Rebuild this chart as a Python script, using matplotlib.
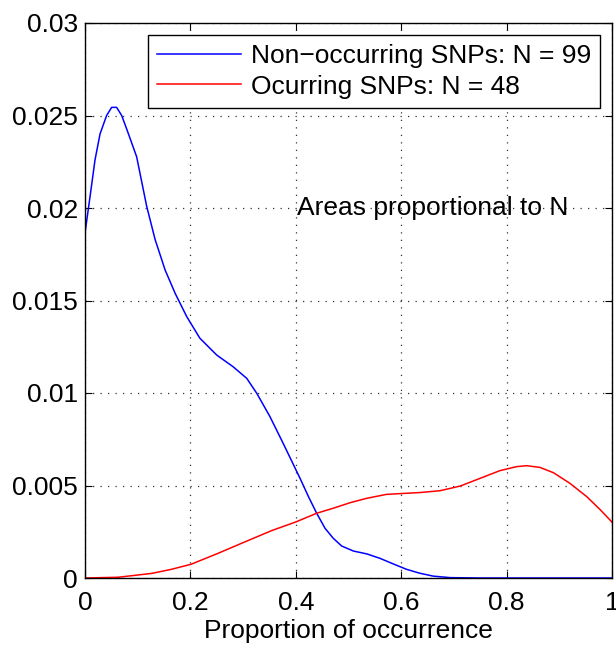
import matplotlib
matplotlib.use("Agg")
import matplotlib.pyplot as plt
import numpy as np

plt.rcParams['font.family'] = ['Liberation Sans', 'DejaVu Sans']

# Non-occurring SNPs density (blue)
blue_x = [0.0, 0.0095, 0.019, 0.0285, 0.041, 0.0506, 0.060, 0.0696, 0.080, 0.098,
          0.117, 0.133, 0.152, 0.171, 0.193, 0.218, 0.250, 0.281, 0.307,
          0.326, 0.351, 0.376, 0.408, 0.424, 0.4396, 0.4554, 0.471, 0.487, 0.509,
          0.535, 0.560, 0.585, 0.610, 0.635, 0.661, 0.693, 0.75, 1.0]
blue_y = [0.01865, 0.0206, 0.0226, 0.0240, 0.0250, 0.02544, 0.02544, 0.0250, 0.0242, 0.02277,
          0.0201, 0.0183, 0.01665, 0.01539, 0.01413, 0.01296, 0.01205, 0.01142, 0.01079,
          0.00998, 0.00872, 0.00728, 0.00539, 0.0044, 0.0035, 0.00269, 0.00215, 0.00173, 0.00146,
          0.0013, 0.00106, 0.00076, 0.00047, 0.00026, 0.0001, 0.00002, 0.0, 0.0]

# Occurring SNPs density (red)
red_x = [0.0, 0.063, 0.127, 0.164, 0.201, 0.253, 0.304, 0.354, 0.401, 0.4396,
         0.471, 0.503, 0.535, 0.572, 0.610, 0.636, 0.674, 0.712, 0.750, 0.787, 0.819, 0.838,
         0.863, 0.889, 0.920, 0.952, 0.977, 1.0]
red_y = [0.0, 0.00004, 0.00025, 0.00047, 0.00074, 0.00134, 0.00196, 0.00256, 0.00304, 0.0035,
         0.00377, 0.00407, 0.00431, 0.00452, 0.00458, 0.00462, 0.00472, 0.00497, 0.00539, 0.0058,
         0.00602, 0.00607, 0.00598, 0.00569, 0.00512, 0.0044, 0.00371, 0.00302]

labels = ['Non\u2212occurring SNPs: N = 99', 'Ocurring SNPs: N = 48']
xticks = [0, 0.2, 0.4, 0.6, 0.8, 1]
xticklabels = ['0', '0.2', '0.4', '0.6', '0.8', '1']
yticks = [0, 0.005, 0.01, 0.015, 0.02, 0.025, 0.03]
yticklabels = ['0', '0.005', '0.01', '0.015', '0.02', '0.025', '0.03']

FS = 19

fig = plt.figure(figsize=(6.16, 6.48), dpi=100)
ax = fig.add_axes([85/616, 1 - 578/648, (612-85)/616, (578-23)/648])

ax.plot(blue_x, blue_y, color='#0000ff', lw=1.1, label=labels[0])
ax.plot(red_x, red_y, color='#ff0000', lw=1.1, label=labels[1])

ax.set_xlim(0, 1)
ax.set_ylim(0, 0.03)
ax.set_xticks(xticks)
ax.set_xticklabels(xticklabels)
ax.set_yticks(yticks)
ax.set_yticklabels(yticklabels)
ax.tick_params(direction='in', length=5, width=0.8, top=True, right=True,
               labelsize=FS, pad=5, colors='black')
ax.tick_params(axis='x', pad=9)
ax.grid(True, color='#333333', linestyle=(0, (1, 5)), linewidth=0.9)
for s in ax.spines.values():
    s.set_linewidth(1.0)

ax.set_xlabel('Proportion of occurrence', fontsize=FS, labelpad=3)

ax.text(0.402, 0.02, 'Areas proportional to N', fontsize=FS, va='center', ha='left')

leg = ax.legend(loc='upper right', fontsize=FS, frameon=True, fancybox=False,
                edgecolor='black', framealpha=1, borderpad=0.35, labelspacing=0.25,
                handlelength=3.2, handletextpad=0.35, borderaxespad=0.45)
leg.get_frame().set_linewidth(1.0)

fig.savefig('out.png', dpi=100)
